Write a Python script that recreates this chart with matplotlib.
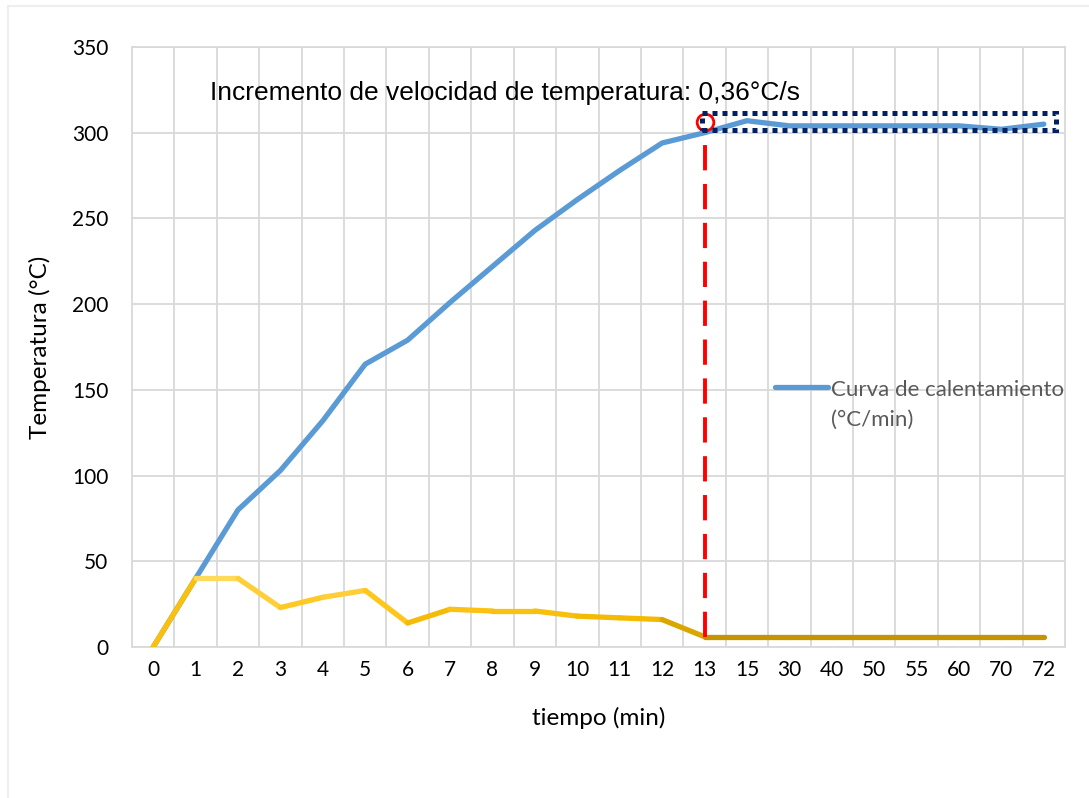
import matplotlib
matplotlib.use("Agg")
import matplotlib.pyplot as plt
from matplotlib.colors import LinearSegmentedColormap
from matplotlib.patches import Rectangle
from matplotlib.lines import Line2D

categories = ["0", "1", "2", "3", "4", "5", "6", "7", "8", "9", "10", "11", "12",
              "13", "15", "30", "40", "50", "55", "60", "70", "72"]
curva_calentamiento = [0, 40, 80, 103, 132, 165, 179, 201, 222, 243, 261, 278, 294,
                       300, 307, 304, 304, 304, 304, 304, 302, 305]
velocidad = [0, 40, 40, 23, 29, 33, 14, 22, 21, 21, 18, 17, 16,
             6, 6, 6, 6, 6, 6, 6, 6, 6]
yticks = [0, 50, 100, 150, 200, 250, 300, 350]
annotation = "Incremento de velocidad de temperatura: 0,36°C/s"
legend_label = "Curva de calentamiento\n(°C/min)"

plt.rcParams['font.family'] = ['Lato', 'DejaVu Sans']

fig = plt.figure(figsize=(10.89, 7.98), dpi=100)
# faint outer frame
fig.add_artist(Line2D([8/1089, 8/1089], [0, 1 - 6/798], transform=fig.transFigure,
                      color='#EEEEEE', lw=1.5))
fig.add_artist(Line2D([8/1089, 1], [1 - 6/798, 1 - 6/798], transform=fig.transFigure,
                      color='#EEEEEE', lw=1.5))

ax = fig.add_axes([132/1089, 151/798, 933/1089, 600/798])
x = list(range(len(categories)))

grid_c = '#D9D9D9'
ax.set_xlim(-0.5, len(categories) - 0.5)
ax.set_ylim(0, 350)
ax.set_yticks(yticks)
ax.set_xticks(x)
ax.set_xticklabels(categories)
ax.set_xticks([i + 0.5 for i in x[:-1]], minor=True)
ax.grid(True, which='minor', axis='x', color=grid_c, lw=1.3)
ax.grid(True, which='major', axis='y', color=grid_c, lw=1.3)
ax.set_axisbelow(True)
for s in ax.spines.values():
    s.set_color(grid_c)
    s.set_linewidth(1.3)
ax.tick_params(axis='both', which='both', length=0, labelsize=15, colors='black')
ax.tick_params(axis='y', pad=17)
ax.tick_params(axis='x', pad=9)

ax.set_ylabel("Temperatura (°C)", fontsize=17.5, labelpad=15)
ax.set_xlabel("tiempo (min)", fontsize=17.5, labelpad=20)

# blue heating curve
blue, = ax.plot(x, curva_calentamiento, color='#5B9BD5', lw=3.8, solid_capstyle='round',
                solid_joinstyle='round', zorder=3, label=legend_label)

# yellow gradient line (segment colour by height)
cmap = LinearSegmentedColormap.from_list(
    'gold', [(0.0, '#C49500'), (0.3, '#F2B900'), (0.5, '#FFC519'), (1.0, '#FFD95A')])
for i in range(len(x) - 1):
    ym = (velocidad[i] + velocidad[i + 1]) / 2.0
    c = cmap(min(max((ym - 6) / 34.0, 0), 1))
    ax.plot(x[i:i + 2], velocidad[i:i + 2], color=c, lw=3.8, solid_capstyle='round',
            solid_joinstyle='round', zorder=4)

# red dashed line at 13 min
i13 = categories.index("13")
ax.plot([x[i13], x[i13]], [velocidad[i13], curva_calentamiento[i13]], color='#FF0000',
        lw=2.8, ls=(0, (6.5, 3.5)), zorder=5)
ax.plot([x[i13]], [curva_calentamiento[i13] + 6], marker='o', ms=12, mfc='none',
        mec='#FF0000', mew=2, zorder=6)

# dotted rectangle around plateau
rect = Rectangle((x[i13] - 0.07, 301.5), 21.28 - (x[i13] - 0.07), 10.0, fill=False,
                 edgecolor='#002060', lw=3.6, ls=(0, (1, 1)), zorder=6)
ax.add_patch(rect)

ax.text(1.35, 323, annotation, fontsize=19, family=['Liberation Sans', 'DejaVu Sans'],
        va='center', ha='left', color='black')

leg = ax.legend(handles=[blue], loc='upper left',
                bbox_to_anchor=((775 - 132) / 933, (647 - 380) / 600),
                frameon=False, fontsize=16, handlelength=2.4, handletextpad=0.1,
                borderpad=0, borderaxespad=0, labelspacing=0.2)
for t in leg.get_texts():
    t.set_color('#595959')
    t.set_linespacing(1.6)
for h in leg.get_lines():
    h.set_linewidth(3.8)
    yd = h.get_ydata()
    h.set_ydata([v + 13 for v in yd])

fig.savefig("out.png", dpi=100)
